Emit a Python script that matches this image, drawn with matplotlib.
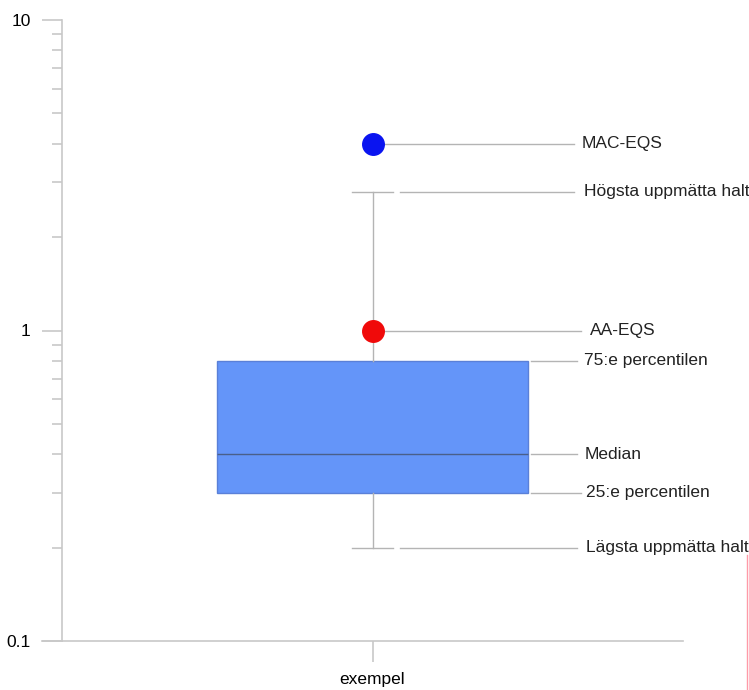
import matplotlib.pyplot as plt
from matplotlib.lines import Line2D

plt.rcParams['font.family'] = ['Liberation Sans', 'DejaVu Sans']

# Data
category = 'exempel'
q1, median, q3 = 0.3, 0.4, 0.8
lowest, highest = 0.2, 2.8
mac_eqs = 4.0
aa_eqs = 1.0

labels = ['MAC-EQS', 'Högsta uppmätta halt', 'AA-EQS', '75:e percentilen',
          'Median', '25:e percentilen', 'Lägsta uppmätta halt']
label_values = [mac_eqs, highest, aa_eqs, q3, median, q1, lowest]
line_start = [0.0, 0.09, 0.0, 0.51, 0.51, 0.51, 0.09]
line_end = [0.65, 0.65, 0.67, 0.66, 0.66, 0.67, 0.66]
text_x = [0.675, 0.682, 0.70, 0.682, 0.682, 0.688, 0.688]

fig = plt.figure(figsize=(7.49, 6.9), dpi=100)
ax = fig.add_axes([62 / 749, 49 / 690, 621 / 749, 621 / 690])

gray_axis = '#c8c8c8'
gray_line = '#b4b4b4'

# connector lines to the labels
for v, x0, x1, lab, tx in zip(label_values, line_start, line_end, labels, text_x):
    ax.plot([x0, x1], [v, v], color=gray_line, lw=1.0, zorder=1)
    ax.text(tx, v, lab, fontsize=12.5, va='center', ha='left', color='#222222')

stats = [{'med': median, 'q1': q1, 'q3': q3, 'whislo': lowest, 'whishi': highest,
          'label': category}]
ax.bxp(stats, positions=[0], widths=1.0, patch_artist=True, showfliers=False,
       boxprops=dict(facecolor='#6495f9', edgecolor='#5a80d8', lw=1.0),
       medianprops=dict(color='#4a5f8a', lw=1.0),
       whiskerprops=dict(color=gray_line, lw=1.0),
       capprops=dict(color=gray_line, lw=1.0), capwidths=0.13)

ax.plot([0], [mac_eqs], 'o', color='#0a14f0', ms=15.5, zorder=5)
ax.plot([0], [aa_eqs], 'o', color='#f00a0a', ms=15.5, zorder=5)

ax.set_yscale('log')
ax.set_ylim(0.1, 10)
ax.set_xlim(-1, 1)
ax.set_yticks([0.1, 1, 10])
ax.set_yticklabels(['0.1', '1', '10'], fontsize=12.5)
ax.set_xticks([0])
ax.set_xticklabels([category], fontsize=12.5)

for s in ['top', 'right']:
    ax.spines[s].set_visible(False)
for s in ['left', 'bottom']:
    ax.spines[s].set_color(gray_axis)
    ax.spines[s].set_linewidth(1.2)

ax.tick_params(axis='y', which='major', length=14.5, width=1.2, color=gray_axis, pad=8)
ax.tick_params(axis='y', which='minor', length=7.2, width=1.2, color=gray_axis, labelleft=False)
ax.tick_params(axis='x', length=15, width=1.2, color=gray_axis, pad=7)

# extend bottom axis a bit to the left, like the original
ax.plot([-1.066, -1], [0.1, 0.1], color=gray_axis, lw=1.2, clip_on=False)

# thin pink line at the right edge of the picture
fig.add_artist(Line2D([747 / 749, 747 / 749], [0, 135 / 690], color='#ff9aa8', lw=1.0))

plt.savefig('out.png', dpi=100)
